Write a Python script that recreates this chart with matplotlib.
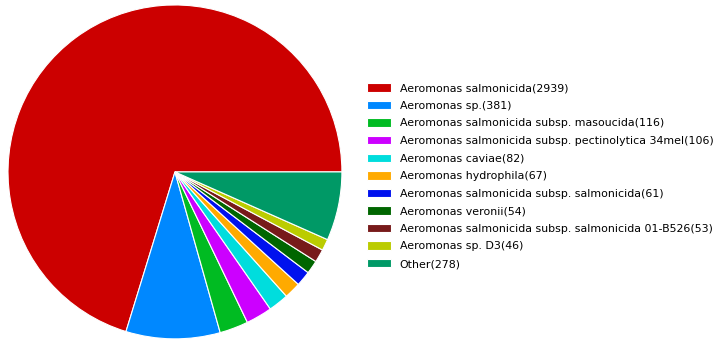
import matplotlib.pyplot as plt

# ---------------------------------------------------------
# Data
# ---------------------------------------------------------

species = [
    "Aeromonas salmonicida",
    "Aeromonas sp.",
    "Aeromonas salmonicida subsp. masoucida",
    "Aeromonas salmonicida subsp. pectinolytica 34mel",
    "Aeromonas caviae",
    "Aeromonas hydrophila",
    "Aeromonas salmonicida subsp. salmonicida",
    "Aeromonas veronii",
    "Aeromonas salmonicida subsp. salmonicida 01-B526",
    "Aeromonas sp. D3",
    "Other",
]
counts = [2939, 381, 116, 106, 82, 67, 61, 54, 53, 46, 278]

colors = [
    "#cc0000", "#0088ff", "#00bb22", "#cc00ff", "#00dddd", "#ffaa00",
    "#0011ee", "#006600", "#771a1a", "#bbcc00", "#009966",
]

labels = [f"{name}({count})" for name, count in zip(species, counts)]

# ---------------------------------------------------------
# Plot
# ---------------------------------------------------------

fig = plt.figure(figsize=(7.15, 3.42), dpi=100)
ax = fig.add_axes([0.0112, 0.0088, 0.467, 0.977])

wedges, _ = ax.pie(
    counts,
    colors=colors,
    startangle=0,
    counterclock=True,
    wedgeprops={"edgecolor": "white", "linewidth": 0.8},
)
ax.set_xlim(-1.0, 1.0)
ax.set_ylim(-1.0, 1.0)
ax.set_aspect("equal")

fig.legend(
    wedges,
    labels,
    loc="center left",
    bbox_to_anchor=(0.499, 0.485),
    frameon=False,
    fontsize=7.9,
    handlelength=2.2,
    handleheight=0.8,
    labelspacing=0.69,
    handletextpad=0.8,
)

plt.savefig("out.png", dpi=100)
plt.close()
